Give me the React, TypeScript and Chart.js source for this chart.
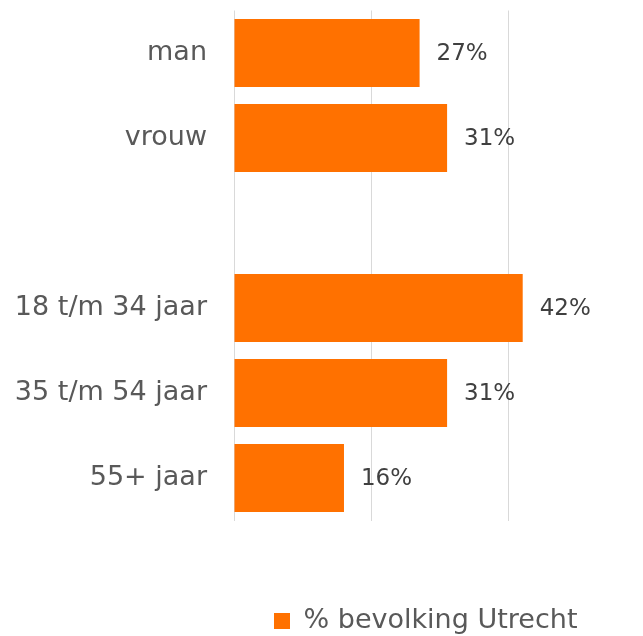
import React, { useEffect, useRef } from "react";
import { Chart, registerables } from "chart.js";

Chart.register(...registerables);

const categories: string[] = ["man", "vrouw", "", "18 t/m 34 jaar", "35 t/m 54 jaar", "55+ jaar"];
const values: (number | null)[] = [27, 31, null, 42, 31, 16];
const seriesLabel = "% bevolking Utrecht";
const gridTicks: number[] = [0, 20, 40];

const FONT = "'DejaVu Sans', sans-serif";

const valueLabels = {
  id: "valueLabels",
  afterDatasetsDraw(chart: any) {
    const ctx = chart.ctx;
    const meta = chart.getDatasetMeta(0);
    ctx.save();
    ctx.font = `23px ${FONT}`;
    ctx.fillStyle = "#404040";
    ctx.textAlign = "left";
    ctx.textBaseline = "middle";
    meta.data.forEach((bar: any, i: number) => {
      const v = values[i];
      if (v === null || v === undefined) return;
      ctx.fillText(`${v}%`, bar.x + 17, bar.y + 1);
    });
    ctx.restore();
  },
};

export default function App() {
  const ref = useRef<HTMLCanvasElement | null>(null);

  useEffect(() => {
    document.body.style.margin = "0";
    const canvas = ref.current;
    if (!canvas) return;
    const chart = new Chart(canvas, {
      type: "bar",
      data: {
        labels: categories,
        datasets: [
          {
            label: seriesLabel,
            data: values,
            backgroundColor: "#FF7100",
            borderWidth: 0,
            categoryPercentage: 0.8,
            barPercentage: 1,
          },
        ],
      },
      options: {
        indexAxis: "y",
        responsive: false,
        animation: false,
        layout: { padding: { top: 10.5, left: 0, right: 0, bottom: 0 } },
        scales: {
          x: {
            min: 0,
            max: 59.5,
            afterBuildTicks: (scale: any) => {
              scale.ticks = gridTicks.map((v) => ({ value: v }));
            },
            ticks: { display: false, stepSize: 20, includeBounds: false },
            grid: { color: "#d9d9d9", lineWidth: 1, drawTicks: false },
            border: { display: false },
            afterFit: (scale: any) => {
              scale.height = 47;
              scale.paddingLeft = 0;
              scale.paddingRight = 0;
            },
          },
          y: {
            grid: { display: false, drawTicks: false },
            border: { display: false },
            ticks: {
              padding: 27,
              color: "#595959",
              font: { family: FONT, size: 27 },
            },
            afterFit: (scale: any) => {
              scale.width = 234;
              scale.paddingTop = 0;
              scale.paddingBottom = 0;
            },
          },
        },
        plugins: {
          legend: {
            position: "bottom",
            align: "start",
            fullSize: false,
            maxHeight: 68.5,
            labels: {
              boxWidth: 16,
              boxHeight: 16,
              padding: 40,
              color: "#595959",
              font: { family: FONT, size: 27 },
            },
          },
          tooltip: { enabled: false },
        },
      },
      plugins: [valueLabels],
    } as any);
    return () => chart.destroy();
  }, []);

  return (
    <div style={{ width: 643, height: 636 }}>
      <canvas ref={ref} width={643} height={636} style={{ display: "block" }} />
    </div>
  );
}
